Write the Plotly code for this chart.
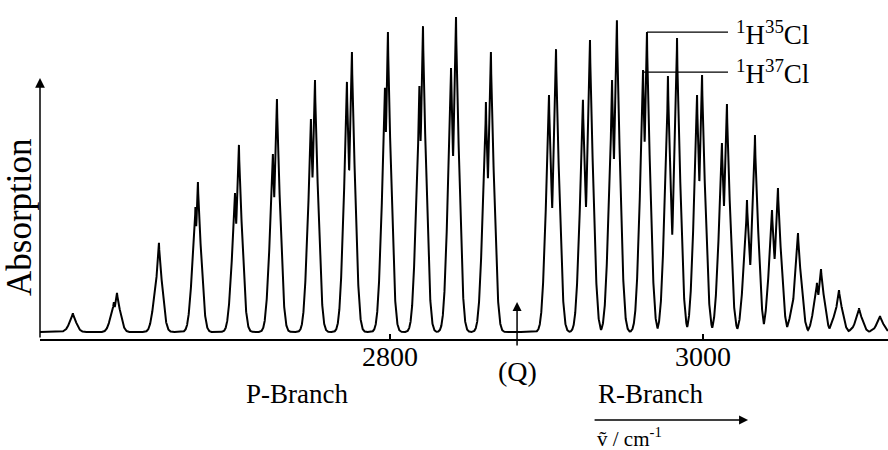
import numpy as np
import plotly.graph_objects as go

# ---- data (wavenumber in cm^-1, absorption in arbitrary units) ----
nu_35 = [2597.4, 2625.6, 2652.4, 2677.3, 2703.5, 2727.8, 2752.1, 2775.7, 2798.7, 2821.1, 2842.2, 2864.5,
         2906.1, 2927.8, 2945.0, 2964.2, 2983.4, 2999.4, 3015.3, 3033.2, 3047.9, 3060.7, 3075.4, 3086.9,
         3099.7, 3113.1]
abs_35 = [6.0, 12.4, 28.3, 47.6, 59.4, 74.0, 80.0, 88.9, 95.2, 97.1, 100.0, 88.9,
          89.8, 92.7, 99.0, 95.2, 93.3, 81.6, 72.4, 62.5, 45.7, 31.4, 20.0, 13.3, 7.6, 5.1]
nu_37 = [2596.2, 2623.6, 2651.1, 2675.7, 2701.0, 2725.2, 2749.5, 2772.5, 2796.8, 2818.8, 2839.0, 2861.3,
         2901.6, 2923.3, 2941.9, 2961.7, 2977.6, 2996.2, 3012.1, 3028.1, 3044.1, 3058.1, 3072.8, 3085.0,
         3097.8, 3111.2]
abs_37 = [3.0, 9.5, 19.0, 39.7, 44.1, 56.5, 67.6, 79.4, 77.5, 78.1, 83.8, 73.0,
          75.2, 73.7, 80.0, 83.2, 81.3, 75.2, 60.0, 41.9, 38.7, 11.7, 15.6, 7.6, 3.0, 2.0]

q_branch = 2881.2          # band origin (Q, missing)
label_line = 15            # index of the R-branch line used for the isotope labels
x_ticks = [2800, 3000]
x_range = [2576.4, 3118.2]
y_range = [-2.22, 105.4]

# ---- render the spectrum from the line list (line-shape of each rotational line) ----
centers = np.array(nu_35 + nu_37)
heights = np.array(abs_35 + abs_37)
sigma, cusp, gfrac = 2.35, 0.55, 0.75
nu = np.union1d(np.arange(x_range[0], x_range[1], 0.05), centers)
d = nu[None, :] - centers[:, None]
prof = heights[:, None] * (gfrac * np.exp(-d ** 2 / (2 * sigma ** 2)) + (1 - gfrac) * np.exp(-np.abs(d) / cusp))
absorb = prof.max(axis=0)

FONT = "Liberation Serif, Times New Roman, serif"
fig = go.Figure()
fig.add_trace(go.Scatter(x=nu, y=absorb, mode="lines",
                         line=dict(color="black", width=2), hoverinfo="skip", showlegend=False))

# isotope label leader lines
x_lab_end = 3016.0
fig.add_shape(type="line", x0=nu_35[label_line], x1=x_lab_end, y0=abs_35[label_line], y1=abs_35[label_line],
              xref="x", yref="y", line=dict(color="black", width=1.3))
fig.add_shape(type="line", x0=nu_37[label_line], x1=x_lab_end, y0=abs_37[label_line] - 0.7, y1=abs_37[label_line] - 0.7,
              xref="x", yref="y", line=dict(color="black", width=1.3))

ann = []
ann.append(dict(x=x_lab_end + 4.0, y=abs_35[label_line] - 0.3, xref="x", yref="y", xanchor="left", yanchor="middle",
                text="<sup>1</sup>H<sup>35</sup>Cl", showarrow=False, font=dict(family=FONT, size=27, color="black")))
ann.append(dict(x=x_lab_end + 4.0, y=abs_37[label_line] - 0.8, xref="x", yref="y", xanchor="left", yanchor="middle",
                text="<sup>1</sup>H<sup>37</sup>Cl", showarrow=False, font=dict(family=FONT, size=27, color="black")))

# y axis arrow
ann.append(dict(x=0, y=80.6, xref="paper", yref="y", ax=0, ay=261, axref="pixel", ayref="pixel",
                showarrow=True, arrowhead=2, arrowsize=1.3, arrowwidth=1.5, arrowcolor="black", text=""))
ann.append(dict(x=-0.0236, y=0.36, xref="paper", yref="paper", text="Absorption", textangle=-90,
                showarrow=False, xanchor="center", yanchor="middle", font=dict(family=FONT, size=35, color="black")))

# Q arrow
ann.append(dict(x=q_branch, y=9.5, xref="x", yref="y", ax=0, ay=45, showarrow=True, arrowhead=2,
                arrowsize=1.2, arrowwidth=1.5, arrowcolor="black", text=""))
ann.append(dict(x=q_branch, y=-0.097, xref="x", yref="paper", text="(Q)", showarrow=False,
                xanchor="center", yanchor="middle", font=dict(family=FONT, size=28, color="black")))

# branch labels
ann.append(dict(x=2740.3, y=-0.163, xref="x", yref="paper", text="P-Branch", showarrow=False,
                xanchor="center", yanchor="middle", font=dict(family=FONT, size=27, color="black")))
ann.append(dict(x=2966.6, y=-0.163, xref="x", yref="paper", text="R-Branch", showarrow=False,
                xanchor="center", yanchor="middle", font=dict(family=FONT, size=27, color="black")))
# wavenumber arrow
ann.append(dict(x=3028.8, y=-0.239, xref="x", yref="paper", ax=-155, ay=0, showarrow=True, arrowhead=2,
                arrowsize=1.2, arrowwidth=1.5, arrowcolor="black", text=""))
ann.append(dict(x=2931.0, y=-0.292, xref="x", yref="paper", text="ṽ / cm<sup>-1</sup>", showarrow=False,
                xanchor="left", yanchor="middle", font=dict(family=FONT, size=21, color="black")))

fig.update_layout(
    width=888, height=450, margin=dict(l=40, r=0, t=0, b=111),
    paper_bgcolor="white", plot_bgcolor="white", annotations=ann,
    xaxis=dict(range=x_range, showgrid=False, zeroline=False, showline=True, linecolor="black", linewidth=1.5,
               tickvals=x_ticks, ticktext=[str(v) for v in x_ticks], ticks="inside", ticklen=5, tickwidth=1.5,
               ticklabelstandoff=-8,
               tickcolor="black", tickfont=dict(family=FONT, size=28, color="black")),
    yaxis=dict(range=y_range, showgrid=False, zeroline=False, showline=False, showticklabels=False, ticks=""),
)
fig.write_html("out.html")
